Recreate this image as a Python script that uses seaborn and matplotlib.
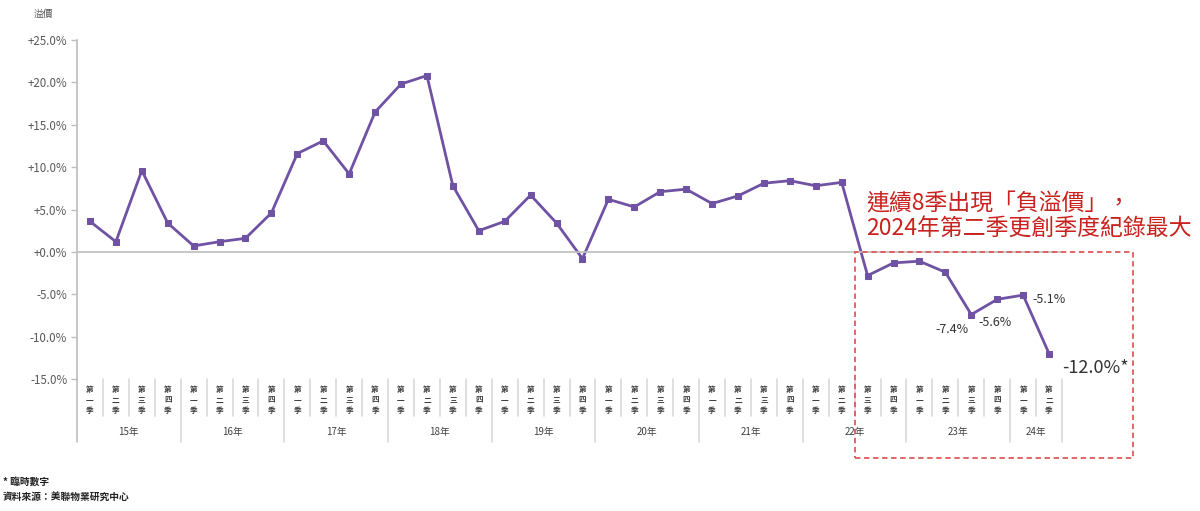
import numpy as np
import pandas as pd
import matplotlib
matplotlib.use('Agg')
import matplotlib.pyplot as plt
import seaborn as sns
from matplotlib.patches import Rectangle

# 2015Q1 - 2024Q2 quarterly premium (%)
years = ['15年', '16年', '17年', '18年', '19年', '20年', '21年', '22年', '23年', '24年']
quarters_per_year = [4, 4, 4, 4, 4, 4, 4, 4, 4, 2]
quarter_names = ['第一季', '第二季', '第三季', '第四季']
premium = [3.6, 1.2, 9.6, 3.4,
           0.7, 1.2, 1.6, 4.6,
           11.6, 13.1, 9.2, 16.5,
           19.8, 20.8, 7.8, 2.5,
           3.6, 6.7, 3.4, -0.8,
           6.2, 5.3, 7.1, 7.4,
           5.7, 6.6, 8.1, 8.4,
           7.8, 8.2, -2.8, -1.3,
           -1.1, -2.4, -7.4, -5.6,
           -5.1, -12.0]
y_ticks = [25, 20, 15, 10, 5, 0, -5, -10, -15]
labelled = {34: '-7.4%', 35: '-5.6%', 36: '-5.1%'}

sns.set_theme(style='white')
plt.rcParams['font.family'] = ['Noto Sans CJK TC', 'DejaVu Sans']

W, H = 1200, 511
fig = plt.figure(figsize=(W / 100, H / 100), dpi=100)
ax = fig.add_axes([77 / W, 1 - 379 / H, (1062 - 77) / W, (379 - 40) / H])

df = pd.DataFrame({'idx': np.arange(len(premium)), 'premium': premium})
purple = '#6f52a3'
sns.lineplot(data=df, x='idx', y='premium', ax=ax, color=purple, lw=2.0,
             marker='s', markersize=5, markeredgecolor=purple, markerfacecolor=purple)

n = len(premium)
ax.set_xlim(-0.5, n - 0.5)
ax.set_ylim(-15, 25)
ax.set_xlabel('')
ax.set_ylabel('')

gray = '#bfbfbf'
for s in ['top', 'right']:
    ax.spines[s].set_visible(False)
ax.spines['bottom'].set_position(('data', 0))
ax.spines['bottom'].set_color(gray)
ax.spines['left'].set_color(gray)
ax.spines['left'].set_bounds(-15, 25)

ax.set_yticks(y_ticks)
ax.set_yticklabels([('+' if v >= 0 else '') + f'{v:.1f}%' for v in y_ticks],
                   fontsize=8.3, color='#595959')
ax.set_xticks(np.arange(n + 1) - 0.5)
ax.set_xticklabels([])
ax.tick_params(axis='x', direction='out', length=4, color=gray, width=1)
ax.tick_params(axis='y', direction='out', length=4, color=gray, width=1, pad=3, left=True)

# category area below the plot
tr = ax.get_xaxis_transform()
sep = '#d9d9d9'
ax.plot([-0.5, -0.5], [0, -0.186], transform=tr, color=gray, lw=1.2, clip_on=False)
pos = 0
for yr, nq in zip(years, quarters_per_year):
    for q in range(nq):
        ax.text(pos + q, -0.062, '\n'.join(quarter_names[q]), transform=tr,
                ha='center', va='center', fontsize=5.5, linespacing=1.15,
                color='#404040', fontweight='bold')
        if q > 0:
            ax.plot([pos + q - 0.5] * 2, [0, -0.109], transform=tr, color=sep, lw=1.2, clip_on=False)
    ax.text(pos + nq / 2 - 0.5, -0.156, yr, transform=tr, ha='center', va='center',
            fontsize=7, color='#404040')
    pos += nq
    ax.plot([pos - 0.5] * 2, [0, -0.186], transform=tr, color=sep, lw=1.2, clip_on=False)

# data labels
offsets = {34: (-19, -15, 'center'), 35: (-2, -23, 'center'), 36: (9, -4, 'left')}
for i, txt in labelled.items():
    dx, dy, ha = offsets[i]
    ax.annotate(txt, (i, premium[i]), xytext=(dx, dy), textcoords='offset pixels',
                ha=ha, va='center', fontsize=9, color='#333333')
ax.annotate(f'{premium[-1]:.1f}%*', (n - 1, premium[-1]), xytext=(13, -14),
            textcoords='offset pixels', ha='left', va='center', fontsize=13, color='#333333')

# highlight box and callout
fig.add_artist(Rectangle((855 / W, 1 - 458 / H), (1133 - 855) / W, (458 - 252) / H,
                         transform=fig.transFigure, fill=False, ls=(0, (3, 2)),
                         ec='#e05a5a', lw=1.3))
fig.text(866 / W, 1 - 193 / H, '連續8季出現「負溢價」，\n2024年第二季更創季度紀錄最大',
         ha='left', va='top', fontsize=16.5, color='#c9211e', linespacing=1.02,
         fontweight='medium')

fig.text(43 / W, 1 - 14 / H, '溢價', ha='center', va='center', fontsize=7, color='#595959')
fig.text(3 / W, 1 - 482 / H, '* 臨時數字', ha='left', va='center', fontsize=7,
         fontweight='bold', color='#222222')
fig.text(3 / W, 1 - 498 / H, '資料來源：美聯物業研究中心', ha='left', va='center', fontsize=7,
         fontweight='bold', color='#222222')

fig.savefig('out.png', dpi=100)
